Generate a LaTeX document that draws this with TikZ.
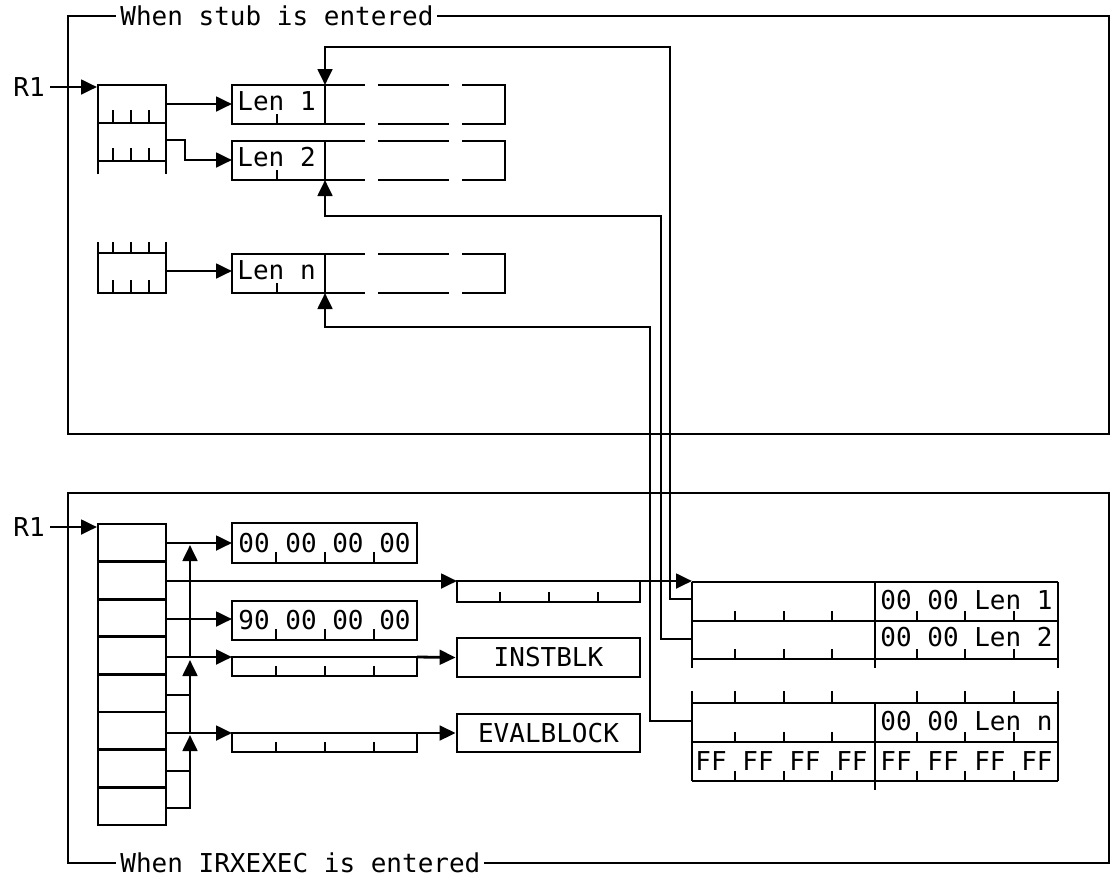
\documentclass[tikz,border=0pt]{standalone}
\usepackage{fontspec}
\setmainfont{DejaVu Sans Mono}
\usetikzlibrary{arrows.meta}
\begin{document}
\begin{tikzpicture}[x=0.75pt,y=-0.75pt,line width=2.1pt,
  ar/.style={-{Triangle[length=12pt,width=11pt]}},
  txt/.style={inner sep=0pt,anchor=west,font=\fontsize{19.5}{20}\selectfont},
  ttl/.style={inner sep=3pt,anchor=west,fill=white,font=\fontsize{19.5}{20}\selectfont}]
\useasboundingbox (0,0) rectangle (1120,886);
\newcommand\tk[3]{\draw (#1,#2)--(#1,#3);}
% frames
\draw (68,16) rectangle (1109,434);
\node[ttl] (t1) at (115,16) {When stub is entered};
\draw (68,493) rectangle (1109,863);
\node[ttl] (t2) at (115,863) {When IRXEXEC is entered};
% R1 labels
\node[txt] (r1a) at (12,87) {R1};
\coordinate (pl1) at (97,87);
\draw[ar] (r1a.east)+(4,0) -- (pl1);
\node[txt] (r1b) at (12,527) {R1};
\coordinate (pl2) at (97,527);
\draw[ar] (r1b.east)+(4,0) -- (pl2);
% top parameter list
\draw (98,174)--(98,85)--(166,85)--(166,174);
\draw (98,123)--(166,123) (98,161)--(166,161);
\foreach \x in {113,131,149}{\tk{\x}{110}{123}\tk{\x}{148}{161}\tk{\x}{242}{253}\tk{\x}{280}{293}}
\draw (98,242)--(98,293)--(166,293)--(166,242);
\draw (98,253)--(166,253);
% Len boxes
\foreach \yt/\lab/\nm in {85/Len 1/L1,141/Len 2/L2,254/Len n/Ln}{
  \pgfmathsetmacro\yb{\yt+39}
  \draw (232,\yt) rectangle (325,\yb);
  \draw (325,\yt)--(365,\yt) (378,\yt)--(449,\yt) (462,\yt)--(505,\yt)--(505,\yb)--(462,\yb) (378,\yb)--(449,\yb) (325,\yb)--(365,\yb);
  \tk{277}{\yb}{\yb-10}
  \node[txt] (\nm) at (236,\yt+16) {\lab};
}
\coordinate (L1t) at (325,85);
\coordinate (L2b) at (325,180);
\coordinate (Lnb) at (325,293);
\draw[ar] (166,104)--(232,104);
\draw[ar] (166,140)--(185,140)--(185,160)--(232,160);
\draw[ar] (166,271)--(232,271);
% bottom parameter list
\draw (98,524) rectangle (166,825);
\foreach \i in {1,...,7}{\draw (98,524+37.6*\i)--(166,524+37.6*\i);}
% value boxes
\draw (232,523) rectangle (417,563);
\node[txt] (v1) at (237,543) {00 00 00 00};
\draw (232,601) rectangle (417,640);
\node[txt] (v3) at (237,620) {90 00 00 00};
\foreach \x in {276,325,374}{\tk{\x}{563}{552}\tk{\x}{640}{629}\tk{\x}{676}{666}\tk{\x}{752}{742}}
\draw (232,657) rectangle (417,676);
\draw (232,733) rectangle (417,752);
\draw (457,581) rectangle (640,602);
\foreach \x in {500,549,598}{\tk{\x}{602}{592}}
\node[draw,minimum width=183*0.75pt,minimum height=39*0.75pt,inner sep=0pt,font=\fontsize{19.5}{20}\selectfont] (ib) at (548.5,657.5) {INSTBLK};
\node[draw,minimum width=183*0.75pt,minimum height=38*0.75pt,inner sep=0pt,font=\fontsize{19.5}{20}\selectfont] (eb) at (548.5,733) {EVALBLOCK};
% bottom arrows
\draw[ar] (166,543)--(232,543);
\draw[ar] (166,581)--(457,581);
\draw[ar] (166,619)--(232,619);
\draw[ar] (166,657)--(232,657);
\draw[ar] (417,657)--(ib.west);
\draw[ar] (166,733)--(232,733);
\draw[ar] (417,733)--(eb.west);
\draw (166,695)--(190,695) (166,771)--(190,771);
\draw[ar] (166,808)--(190,808)--(190,735);
\draw[ar] (190,733)--(190,660);
\draw[ar] (190,657)--(190,545);
\draw[ar] (640,581)--(692,581);
% right table 1
\draw (692,582)--(1058,582) (692,621)--(1058,621) (692,659)--(1058,659);
\draw (692,582)--(692,668) (875,582)--(875,668) (1058,582)--(1058,668);
\foreach \x in {735,784,832,917,965,1014}{\tk{\x}{621}{611}\tk{\x}{659}{649}}
\node[txt] (e1) at (879,600) {00 00 Len 1};
\node[txt] (e2) at (879,637) {00 00 Len 2};
% right table 2
\draw (692,703)--(1058,703) (692,742)--(1058,742) (692,781)--(1058,781);
\draw (692,691)--(692,781) (875,703)--(875,790) (1058,691)--(1058,781);
\foreach \x in {735,784,832,917,965,1014}{\tk{\x}{691}{703}\tk{\x}{742}{732}\tk{\x}{781}{771}}
\node[txt] (en) at (879,721) {00 00 Len n};
\node[txt] (f1) at (694,761) {FF FF FF FF};
\node[txt] (f2) at (879,761) {FF FF FF FF};
% long connectors
\draw[ar] (692,599)-|(670,47)-|(L1t);
\draw[ar] (692,639)-|(661,216)-|(L2b);
\draw[ar] (692,721)-|(650,327)-|(Lnb);
\end{tikzpicture}
\end{document}
